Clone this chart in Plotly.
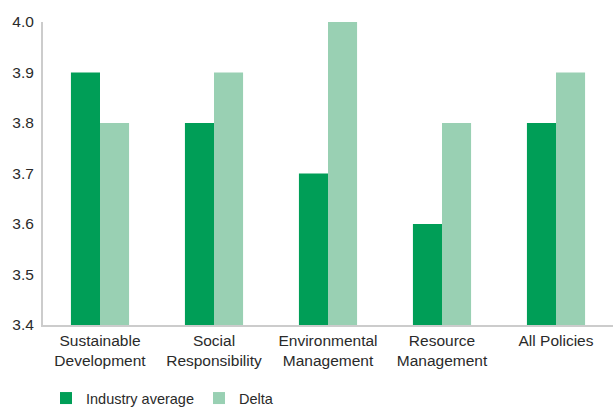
import plotly.graph_objects as go

categories = ["Sustainable<br>Development", "Social<br>Responsibility",
              "Environmental<br>Management", "Resource<br>Management", "All Policies"]
industry_average = [3.9, 3.8, 3.7, 3.6, 3.8]
delta = [3.8, 3.9, 4.0, 3.8, 3.9]
y_ticks = [3.4, 3.5, 3.6, 3.7, 3.8, 3.9, 4.0]

DARK = "#009E57"
LIGHT = "#99D0B3"
TEXT = "#2a2a2a"

fig = go.Figure()
fig.add_trace(go.Bar(name="Industry average", x=categories, y=industry_average,
                     marker=dict(color=DARK, line=dict(width=0))))
fig.add_trace(go.Bar(name="Delta", x=categories, y=delta,
                     marker=dict(color=LIGHT, line=dict(width=0))))

fig.update_layout(
    width=613, height=410,
    margin=dict(l=43, r=0, t=22, b=85, autoexpand=False),
    barmode="group", bargap=0.49, bargroupgap=0,
    plot_bgcolor="white", paper_bgcolor="white",
    font=dict(family="Liberation Sans, Arial, sans-serif", size=15, color=TEXT),
    showlegend=True,
    legend=dict(orientation="h", xref="container", yref="container",
                x=0.075, xanchor="left", y=0.068, yanchor="top",
                font=dict(size=14.5, color=TEXT), itemwidth=30, traceorder="normal"),
    xaxis=dict(showline=True, linecolor="#cccccc", linewidth=2, ticks="",
               tickfont=dict(size=15.5, color=TEXT), showgrid=False),
    yaxis=dict(range=[3.4, 4.0], tickvals=y_ticks, ticktext=[f"{v:.1f}" for v in y_ticks],
               showline=True, linecolor="#cccccc", linewidth=2, showgrid=False,
               zeroline=False, ticks="", ticklabelstandoff=4,
               tickfont=dict(size=15.5, color=TEXT)),
)

fig.write_html("out.html")
